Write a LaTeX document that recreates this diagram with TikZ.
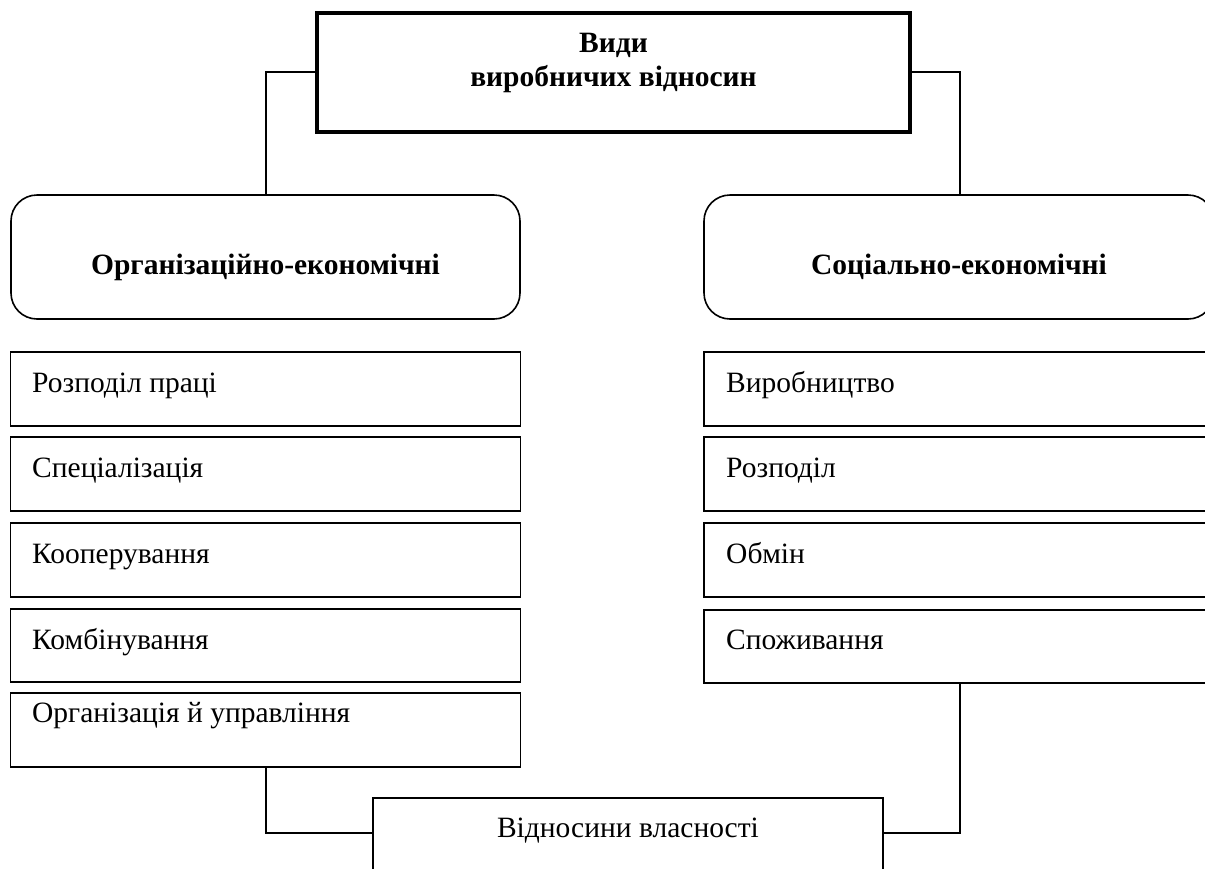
\documentclass[tikz,border=0pt]{standalone}
\usepackage{fontspec}
\setmainfont{Liberation Serif}
\begin{document}
\begin{tikzpicture}[x=1pt,y=-1pt,
  topbox/.style={draw, line width=3.8pt, inner sep=0pt},
  headbox/.style={draw, line width=1.6pt, rounded corners=26pt, inner sep=0pt},
  headtext/.style={inner sep=0pt, font=\bfseries\fontsize{29.5}{34}\selectfont},
  itembox/.style={draw, line width=1.6pt, inner sep=0pt, minimum width=510pt},
  itemtext/.style={anchor=base west, inner sep=0pt, font=\fontsize{29.5}{34}\selectfont},
  link/.style={draw, line width=1.3pt}]
\useasboundingbox (0,0) rectangle (1205,868);
\clip (0,0) rectangle (1205,868);
% top box
\node[topbox, minimum width=593pt, minimum height=119pt] (top) at (613.5,72.5) {};
\node[inner sep=0pt, font=\bfseries\fontsize{29.5}{34}\selectfont, align=center, anchor=base] (toptext) at (613.5,86) {Види\\виробничих відносин};
% headers
\node[headbox, minimum width=509pt, minimum height=124pt] (org) at (265.5,257) {};
\node[headbox, minimum width=510pt, minimum height=124pt] (soc) at (959,257) {};
\node[headtext] (orgt) at ([yshift=-10pt]org.center) {Організаційно-економічні};
\node[headtext] (soct) at ([yshift=-10pt]soc.center) {Соціально-економічні};
% left items
\node[itembox, minimum height=74pt] (l1) at (265.5,389) {};
\node[itembox, minimum height=74pt] (l2) at (265.5,474) {};
\node[itembox, minimum height=74pt] (l3) at (265.5,560) {};
\node[itembox, minimum height=73pt] (l4) at (265.5,645.5) {};
\node[itembox, minimum height=74pt] (l5) at (265.5,730) {};
\node[itemtext] (l1t) at (32,392) {Розподіл праці};
\node[itemtext] (l2t) at (32,477) {Спеціалізація};
\node[itemtext] (l3t) at (32,563) {Кооперування};
\node[itemtext] (l4t) at (32,649) {Комбінування};
\node[itemtext] (l5t) at (32,722) {Організація й управління};
% right items
\node[itembox, minimum height=74pt] (r1) at (959,389) {};
\node[itembox, minimum height=74pt] (r2) at (959,474) {};
\node[itembox, minimum height=74pt] (r3) at (959,560) {};
\node[itembox, minimum height=73pt] (r4) at (959,646.5) {};
\node[itemtext] (r1t) at (726,392) {Виробництво};
\node[itemtext] (r2t) at (726,477) {Розподіл};
\node[itemtext] (r3t) at (726,563) {Обмін};
\node[itemtext] (r4t) at (726,649) {Споживання};
% bottom box
\node[itembox, minimum height=100pt] (own) at (628,848) {};
\node[itemtext, anchor=base] (ownt) at (628,837) {Відносини власності};
% connectors
\coordinate (tl) at (266,72);
\coordinate (tr) at (960,72);
\draw[link] (top.west |- tl) -- (tl) -- (tl |- org.north);
\draw[link] (top.east |- tr) -- (tr) -- (tr |- soc.north);
\coordinate (bl) at (266,833);
\coordinate (br) at (960,833);
\draw[link] (bl |- l5.south) -- (bl) -- (own.west |- bl);
\draw[link] (br |- r4.south) -- (br) -- (own.east |- br);
\end{tikzpicture}
\end{document}
